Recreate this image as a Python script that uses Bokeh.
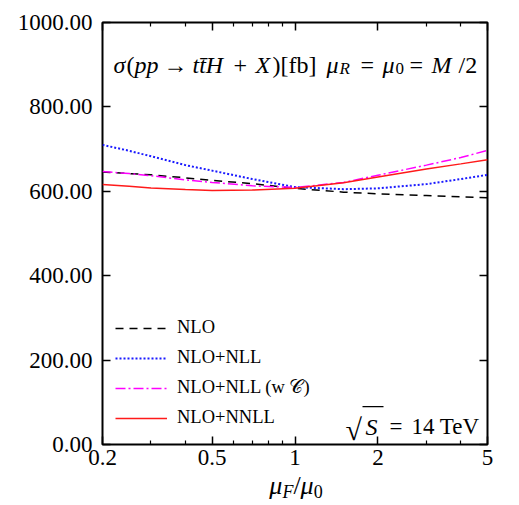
from bokeh.plotting import figure
from bokeh.models import (LogAxis, LinearAxis, FixedTicker, PrintfTickFormatter,
                          CustomJSTickFormatter, Legend, LegendItem, Label, Range1d,
                          BoxAnnotation, CustomLabelingPolicy, Div)
from bokeh.layouts import column
from bokeh.embed import file_html
from bokeh.resources import INLINE

# ---------------- data ----------------
mu_f = [0.2, 0.25, 0.3, 0.4, 0.5, 0.7, 1.0, 1.5, 2.0, 3.0, 4.0, 5.0]
nlo = [646, 642, 639, 632, 626, 618, 607, 598, 594, 590, 587, 585]
nlo_nll = [710, 696, 683, 662, 649, 629, 610, 605, 607, 617, 629, 639]
nlo_nll_wc = [647, 642, 637, 627, 621, 613, 609, 621, 638, 662, 680, 697]
nlo_nnll = [616, 612, 608, 604, 602, 603, 607, 620, 634, 653, 665, 675]

x_ticks = [0.2, 0.5, 1, 2, 5]
x_minor = [0.3, 0.4, 0.6, 0.7, 0.8, 0.9, 3, 4]
y_ticks = [0, 200, 400, 600, 800, 1000]

series_labels = ["NLO", "NLO+NLL", "NLO+NLL (w \U0001D49E)", "NLO+NNLL"]

FONT = "Liberation Serif"
L, B = 102, 444  # frame left / bottom in canvas pixels

p = figure(width=519, height=478, x_axis_type="log",
           x_range=Range1d(0.2, 5), y_range=Range1d(0, 1000),
           output_backend="svg", toolbar_location=None,
           min_border_left=L, min_border_right=32, min_border_top=22,
           min_border_bottom=34, background_fill_color="white",
           border_fill_color="white")
p.grid.visible = False
p.outline_line_color = "black"
p.outline_line_width = 2

p.add_layout(LinearAxis(), "right")
p.add_layout(LogAxis(), "above")

for ax in p.xaxis:
    ax.ticker = FixedTicker(ticks=x_ticks, minor_ticks=x_minor)
    ax.formatter = CustomJSTickFormatter(code="return tick.toString()")
for ax in p.yaxis:
    ax.ticker = FixedTicker(ticks=y_ticks, minor_ticks=[])
    ax.formatter = PrintfTickFormatter(format="%.2f")

for ax in p.axis:
    ax.axis_line_color = None
    ax.major_tick_in = 8
    ax.major_tick_out = 0
    ax.minor_tick_in = 4
    ax.minor_tick_out = 0
    ax.major_tick_line_width = 1.5
    ax.minor_tick_line_width = 1.2
    ax.major_tick_line_color = "black"
    ax.minor_tick_line_color = "black"
    ax.major_label_text_font = FONT
    ax.major_label_text_font_size = "23px"
    ax.major_label_text_color = "black"

p.xaxis[0].major_label_standoff = 7
p.yaxis[0].major_label_standoff = 10
for ax in (p.right[0], p.above[0]):
    ax.major_label_text_font_size = "0px"
    ax.major_label_standoff = 0
    ax.major_label_policy = CustomLabelingPolicy(code="return new Set()")

r1 = p.line(mu_f, nlo, line_color="black", line_width=1.5, line_dash="8 6")
r2 = p.line(mu_f, nlo_nll, line_color="#1a1aff", line_width=2, line_dash="2 2")
r3 = p.line(mu_f, nlo_nll_wc, line_color="#ff00ff", line_width=1.5, line_dash="10 3 2 3")
r4 = p.line(mu_f, nlo_nnll, line_color="#ff1a1a", line_width=1.5)

legend = Legend(items=[LegendItem(label=lab, renderers=[r]) for lab, r in
                       zip(series_labels, [r1, r2, r3, r4])],
                location=(13, 16), padding=0, margin=0, spacing=9,
                glyph_width=52, glyph_height=20, label_height=20,
                label_standoff=10, border_line_color=None,
                background_fill_alpha=0, label_text_font=FONT,
                label_text_font_size="18.5px", label_text_color="black")
p.add_layout(legend)


def put(text, x, y, size, style="normal"):
    p.add_layout(Label(x=x - L, y=B - y, x_units="screen", y_units="screen",
                       text=text, text_font=FONT, text_font_size=f"{size}px",
                       text_font_style=style, text_baseline="alphabetic",
                       text_align="left", text_color="black"))


# title inside plot
ty = 64.5
T, TS = 24, 17
put("\u03c3", 113, ty, T, "italic")
put("(", 126, ty, T)
put("pp", 134, ty, T, "italic")
put("\u2192", 163, ty, T)
put("tt\u0304H", 192, ty, T, "italic")
put("+", 233, ty, T)
put("X", 255, ty, T, "italic")
put(")", 272, ty, T)
put("[fb]", 280, ty, T)
put("\u03bc", 326, ty, T, "italic")
put("R", 339, ty + 3.5, TS, "italic")
put("=", 360, ty, T)
put("\u03bc", 382, ty, T, "italic")
put("0", 395, ty + 3.5, TS)
put("=", 409, ty, T)
put("M", 431, ty, T, "italic")
put("/2", 458, ty, T)

# energy label
sy = 426
put("\u221a", 345, 429, 30)
put("S", 365, sy, 24, "italic")
p.add_layout(BoxAnnotation(left=362 - L, right=383 - L, top=B - 405.5, bottom=B - 406.8,
                           left_units="screen", right_units="screen",
                           top_units="screen", bottom_units="screen",
                           fill_color="black", fill_alpha=1, line_color=None))
put("=", 389, sy, 23)
put("14 TeV", 411, sy, 23)

# x-axis label (below the plot, as HTML text)
sub = "font-size:18px; position:relative; top:4px; vertical-align:baseline;"
xlabel_html = (
    '<div style="position:relative; width:519px; height:27px;">'
    '<span style="position:absolute; left:296px; top:-4px; transform:translateX(-50%);'
    " font-family:'Liberation Serif'; font-size:26px; line-height:24px;"
    ' white-space:nowrap; color:black;">'
    f'<i>\u03bc</i><i style="{sub}">F</i>/<i>\u03bc</i><span style="{sub}">0</span>'
    '</span></div>'
)
xlabel = Div(text=xlabel_html, width=519, height=27, margin=0)

layout = column(p, xlabel, spacing=0)
open("out.html", "w").write(file_html(layout, INLINE))
